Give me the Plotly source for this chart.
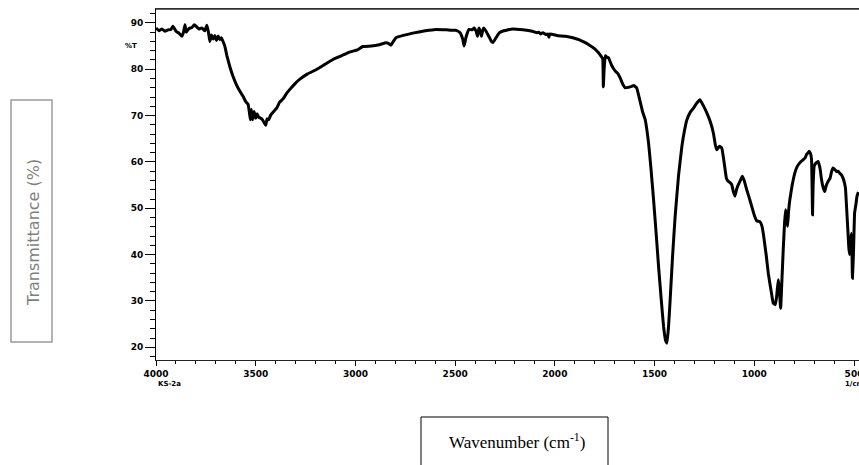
import plotly.graph_objects as go

wavenumber = [
    4000, 3985, 3970, 3955, 3940, 3925, 3915, 3900, 3885, 3870, 3862, 3855, 3848, 3835, 3820, 3808,
    3797, 3785, 3770, 3755, 3745, 3737, 3730, 3722, 3713, 3705, 3697, 3688, 3680, 3672, 3665, 3655,
    3645, 3630, 3615, 3597, 3580, 3563, 3550, 3538, 3532, 3527, 3522, 3516, 3508, 3500, 3493, 3485,
    3478, 3468, 3458, 3450, 3443, 3435, 3425, 3410, 3395, 3380, 3363, 3345, 3330, 3305, 3280, 3240,
    3197, 3155, 3113, 3070, 3030, 2990, 2963, 2920, 2880, 2847, 2835, 2822, 2810, 2797, 2760, 2713,
    2650, 2597, 2540, 2497, 2475, 2462, 2455, 2445, 2430, 2415, 2405, 2395, 2388, 2381, 2374, 2368,
    2362, 2357, 2345, 2330, 2318, 2310, 2295, 2280, 2263, 2213, 2160, 2113, 2090, 2080, 2072, 2060,
    2045, 2035, 2030, 2025, 1990, 1947, 1910, 1880, 1855, 1830, 1800, 1780, 1765, 1760, 1757, 1753,
    1747, 1738, 1730, 1715, 1697, 1685, 1672, 1660, 1647, 1630, 1615, 1605, 1590, 1575, 1560, 1547,
    1530, 1518, 1505, 1492, 1480, 1467, 1455, 1445, 1438, 1430, 1422, 1410, 1397, 1380, 1363, 1350,
    1338, 1320, 1305, 1290, 1272, 1255, 1238, 1220, 1205, 1195, 1188, 1175, 1163, 1150, 1140, 1130,
    1120, 1113, 1105, 1097, 1088, 1080, 1070, 1060, 1050, 1038, 1025, 1013, 1000, 988, 972, 962,
    955, 940, 930, 915, 905, 895, 888, 880, 875, 868, 862, 855, 848, 843, 838, 833,
    828, 822, 810, 797, 785, 772, 763, 755, 745, 738, 730, 725, 718, 713, 710, 708,
    705, 700, 697, 690, 680, 670, 663, 655, 647, 640, 630, 620, 612, 605, 595, 587,
    580, 572, 563, 555, 548, 543, 537, 530, 526, 522, 518, 513, 510, 508, 503, 497,
    490, 485, 478,
]
transmittance = [
    88.9, 88.3, 88.7, 88.2, 88.5, 88.6, 89.3, 88.2, 87.8, 87.1, 88.0, 89.6, 88.0, 88.8, 89.0, 89.6,
    89.2, 88.7, 88.9, 88.3, 89.5, 88.0, 86.0, 87.4, 86.5, 87.3, 86.2, 87.2, 86.4, 86.8, 86.1, 85.0,
    83.0, 80.6, 78.6, 76.7, 75.3, 74.1, 73.0, 72.4, 70.8, 69.1, 71.3, 69.1, 70.9, 69.4, 70.4, 69.6,
    69.5, 69.2, 68.5, 67.9, 69.3, 69.1, 70.1, 70.9, 71.6, 72.9, 73.6, 74.8, 75.6, 76.8, 77.8, 79.0,
    79.9, 81.0, 82.1, 82.9, 83.7, 84.2, 84.9, 85.0, 85.3, 85.7, 85.6, 85.2, 86.0, 86.8, 87.3, 87.8,
    88.3, 88.6, 88.5, 88.4, 87.9, 86.5, 85.0, 87.0, 88.6, 88.5, 88.9, 88.2, 87.1, 88.9, 88.2, 87.1,
    88.4, 88.9, 88.2, 87.0, 86.0, 85.8, 86.8, 87.8, 88.2, 88.7, 88.5, 88.2, 87.9, 88.0, 87.6, 87.9,
    87.5, 87.6, 86.9, 87.6, 87.3, 87.1, 86.8, 86.4, 85.9, 85.3, 84.4, 83.5, 82.6, 82.3, 76.2, 80.0,
    82.9, 82.6, 82.4, 80.8, 79.6, 79.1, 78.1, 76.8, 76.0, 76.1, 76.3, 76.5, 76.0, 73.5, 70.8, 69.1,
    64.0, 58.5, 51.8, 44.5, 37.4, 30.5, 24.5, 21.5, 20.9, 24.5, 30.2, 39.5, 48.2, 57.0, 63.4, 66.8,
    69.1, 70.8, 71.6, 72.6, 73.4, 72.1, 70.6, 68.6, 66.2, 63.6, 62.6, 63.4, 63.0, 59.5, 56.5, 55.8,
    55.5, 55.1, 53.6, 52.6, 54.2, 55.1, 56.0, 56.9, 55.9, 54.0, 52.2, 50.4, 48.5, 47.3, 47.1, 46.2,
    44.6, 39.8, 36.0, 32.0, 29.5, 29.2, 30.9, 34.6, 33.0, 28.4, 34.0, 41.0, 47.0, 49.7, 47.5, 46.1,
    49.5, 51.8, 55.0, 57.6, 59.0, 59.8, 60.2, 60.5, 60.9, 61.6, 62.0, 62.3, 61.8, 60.5, 54.0, 48.6,
    55.0, 59.0, 59.4, 59.8, 60.1, 58.5, 56.2, 54.5, 53.6, 54.8, 55.8, 56.5, 58.0, 58.7, 58.3, 57.9,
    58.0, 57.6, 57.2, 56.5, 55.5, 54.4, 50.0, 44.6, 41.5, 40.0, 42.5, 44.6, 40.0, 34.9, 40.0, 49.0,
    51.0, 52.6, 53.5,
]
x_tick_vals = [4000, 3500, 3000, 2500, 2000, 1500, 1000, 500]
x_tick_text = ["4000", "3500", "3000", "2500", "2000", "1500", "1000", "500"]
y_tick_vals = [20, 30, 40, 50, 60, 70, 80, 90]
y_tick_text = ["20", "30", "40", "50", "60", "70", "80", "90"]

W, H = 859, 465
L, R, T, B = 156, 0, 9, 105
pw, ph = W - L - R, H - T - B

def px(x):
    return (x - L) / pw

def py(y):
    return (H - B - y) / ph

fig = go.Figure()
fig.add_trace(go.Scatter(
    x=wavenumber, y=transmittance, mode="lines",
    line=dict(color="black", width=3, shape="spline", smoothing=0.3),
    hoverinfo="skip", showlegend=False, cliponaxis=True,
))

tickfont = dict(family="DejaVu Sans", size=9, color="black", weight="bold")
smallfont = dict(family="DejaVu Sans", size=7, color="black", weight="bold")

fig.update_layout(
    width=W, height=H,
    margin=dict(l=L, r=R, t=T, b=B, pad=0, autoexpand=False),
    paper_bgcolor="white", plot_bgcolor="white",
    xaxis=dict(
        range=[4000, 475], tickvals=x_tick_vals, ticktext=x_tick_text,
        ticks="outside", ticklen=5, tickwidth=1, tickcolor="black",
        minor=dict(dtick=100, tick0=0, ticks="outside", ticklen=3, tickcolor="black"),
        showline=True, linecolor="#222222", linewidth=1.2, mirror=True,
        showgrid=False, zeroline=False, tickfont=tickfont, automargin=False,
        ticklabeloverflow="allow",
    ),
    yaxis=dict(
        range=[17.26, 93.0], tickvals=y_tick_vals, ticktext=y_tick_text,
        ticks="outside", ticklen=10, tickwidth=1, tickcolor="black",
        minor=dict(dtick=2, tick0=0, ticks="outside", ticklen=5, tickcolor="black"),
        showline=True, linecolor="black", linewidth=1,
        showgrid=False, zeroline=False, tickfont=tickfont, automargin=False,
        ticklabeloverflow="allow",
    ),
)

# top frame line
fig.add_shape(type="line", xref="paper", yref="paper", x0=0, x1=1, y0=1, y1=1,
              line=dict(color="#333333", width=1.5), layer="above")

fig.add_annotation(xref="paper", yref="paper", x=px(131), y=py(46), text="%T",
                   showarrow=False, font=smallfont, xanchor="center", yanchor="middle")
fig.add_annotation(xref="paper", yref="paper", x=px(156), y=py(384), text="KS-2a",
                   showarrow=False, font=smallfont, xanchor="left", yanchor="middle")
fig.add_annotation(xref="paper", yref="paper", x=px(843), y=py(384), text="1/cm",
                   showarrow=False, font=smallfont, xanchor="left", yanchor="middle")

# y-axis title box
fig.add_shape(type="rect", xref="paper", yref="paper",
              x0=px(11), x1=px(52), y0=py(100), y1=py(342),
              line=dict(color="#9a9a9a", width=1.5), fillcolor="white", layer="below")
fig.add_annotation(xref="paper", yref="paper", x=px(33), y=py(233),
                   text="Transmittance (%)", textangle=-90, showarrow=False,
                   font=dict(family="DejaVu Sans", size=16, color="#7f7f7f"),
                   xanchor="center", yanchor="middle")

# x-axis title box
fig.add_shape(type="rect", xref="paper", yref="paper",
              x0=px(421), x1=px(608), y0=py(417), y1=py(468),
              line=dict(color="black", width=1), fillcolor="white", layer="below")
fig.add_annotation(xref="paper", yref="paper", x=px(517), y=py(441),
                   text="Wavenumber (cm<sup>-1</sup>)", showarrow=False,
                   font=dict(family="Liberation Serif", size=17, color="black"),
                   xanchor="center", yanchor="middle")

fig.write_html(
    "out.html",
    config={"displayModeBar": False},
    post_script="document.body.style.margin='0';document.body.style.padding='0';document.body.style.overflow='hidden';",
)
